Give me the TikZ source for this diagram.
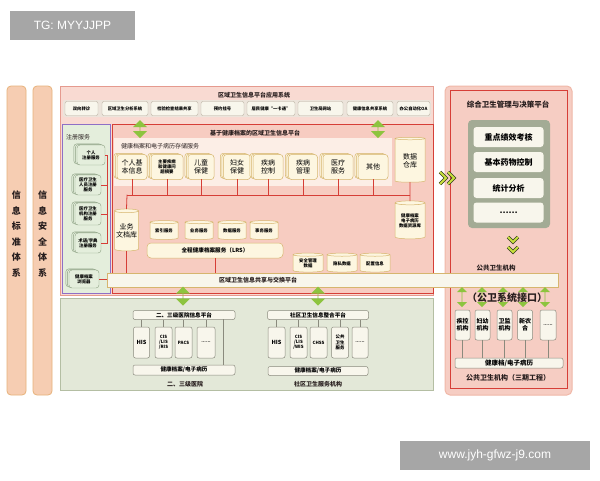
\documentclass[tikz,border=0pt]{standalone}
\usepackage{fontspec}
\setmainfont{Noto Sans CJK SC}
\newfontfamily\wmfont{Liberation Sans}
\usepackage{tikz}
\usetikzlibrary{shapes.geometric,shapes.arrows,shadows}

\begin{document}
\begin{tikzpicture}[x=1pt,y=-1pt,line cap=rect,
	wmbox/.style={fill=custcol_wm, text=white, inner sep=0, font=\wmfont\fontsize{12pt}{12pt}\selectfont},
	sidebar/.style={rounded corners=4pt, fill=custcol_side, draw=custcol_sideln, line width=0.8pt, inner sep=0, align=center, font=\fsSide},
	appbox/.style={rounded corners=2pt, fill=custcol_paper, draw=custcol_grayln, line width=0.4pt, inner sep=0, minimum height=14, font=\fsApp},
	greenarr/.style={double arrow, fill=custcol_green, draw=none, inner sep=0, rotate=90, double arrow head extend=3pt},
	docbox/.style={rounded corners=3pt, fill=custcol_cream, draw=custcol_tan, line width=0.5pt, inner sep=0, align=center, minimum height=25,
		double copy shadow={shadow xshift=-1.6pt, shadow yshift=0.6pt}},
	regbox/.style={rounded corners=3pt, fill=custcol_regfill, draw=custcol_regln, line width=0.4pt, inner sep=0, align=center, minimum width=26, minimum height=20, font=\fsReg,
		double copy shadow={shadow xshift=-1.6pt, shadow yshift=0.6pt}},
	cyl/.style={cylinder, shape border rotate=90, aspect=0.18, fill=custcol_cream, draw=custcol_tan, line width=0.5pt, inner sep=0, align=center},
	sbox/.style={rounded corners=2pt, fill=custcol_paper, draw=custcol_boxln, line width=0.5pt, inner sep=0, align=center},
	decbox/.style={rounded corners=3pt, fill=custcol_paper, draw=none, inner sep=0, minimum width=70, minimum height=20, font=\fsDec},
	redwire/.style={draw=custcol_red, line width=0.8pt},
	graywire/.style={draw=custcol_boxln, line width=0.5pt},
	lbl/.style={inner sep=0, outer sep=0}]
	\def\fsApp{\fontsize{4.3pt}{5pt}\bfseries\selectfont}
	\def\fsReg{\fontsize{4.4pt}{5.2pt}\bfseries\selectfont}
	\def\fsTiny{\fontsize{4.4pt}{5.2pt}\bfseries\selectfont}
	\def\fsDoc{\fontsize{7pt}{8pt}\selectfont}
	\def\fsHead{\fontsize{6pt}{7pt}\bfseries\selectfont}
	\def\fsSmall{\fontsize{5.6pt}{6.5pt}\bfseries\selectfont}
	\def\fsSide{\fontsize{9pt}{15.6pt}\bfseries\selectfont}
	\def\fsDec{\fontsize{8pt}{9pt}\bfseries\selectfont}
	\definecolor{custcol_wm}{RGB}{166, 166, 166}
	\definecolor{custcol_side}{RGB}{246, 205, 178}
	\definecolor{custcol_sideln}{RGB}{231, 178, 122}
	\definecolor{custcol_pink}{RGB}{249, 218, 210}
	\definecolor{custcol_pinkln}{RGB}{229, 154, 143}
	\definecolor{custcol_plat}{RGB}{247, 204, 193}
	\definecolor{custcol_band}{RGB}{252, 238, 230}
	\definecolor{custcol_appband}{RGB}{236, 228, 219}
	\definecolor{custcol_red}{RGB}{214, 62, 55}
	\definecolor{custcol_cream}{RGB}{253, 246, 224}
	\definecolor{custcol_tan}{RGB}{214, 181, 110}
	\definecolor{custcol_paper}{RGB}{248, 246, 236}
	\definecolor{custcol_grayln}{RGB}{184, 176, 160}
	\definecolor{custcol_boxln}{RGB}{138, 138, 125}
	\definecolor{custcol_green}{RGB}{141, 196, 63}
	\definecolor{custcol_regfill}{RGB}{228, 238, 220}
	\definecolor{custcol_regln}{RGB}{140, 160, 130}
	\definecolor{custcol_purple}{RGB}{142, 111, 198}
	\definecolor{custcol_lowbg}{RGB}{227, 232, 216}
	\definecolor{custcol_lowln}{RGB}{180, 190, 163}
	\definecolor{custcol_rpanel}{RGB}{246, 205, 195}
	\definecolor{custcol_rpanelln}{RGB}{240, 184, 168}
	\definecolor{custcol_dec}{RGB}{163, 171, 149}
	\definecolor{custcol_chev}{RGB}{200, 224, 60}
	\definecolor{custcol_chevln}{RGB}{50, 60, 30}
	\definecolor{custcol_txt}{RGB}{40, 30, 30}
	\fill [white] (0,0) rectangle (600,480);
	\useasboundingbox (0,0) rectangle (600,480);
	% watermarks
	\node[wmbox, minimum width=125, minimum height=29] (wmTop) at (72.5,25.5) {TG: MYYJJPP};
	\node[wmbox, minimum width=190, minimum height=29] (wmBot) at (495,455) {www.jyh-gfwz-j9.com};
	% side systems
	\node[sidebar, minimum width=19, minimum height=309] (barStd) at (16.5,240.5) {};
	\node[sidebar, minimum width=19, minimum height=309] (barSec) at (42.5,240.5) {};
	\node[lbl, align=center, font=\fsSide, custcol_txt] (txtStd) at (16.5,234) {信\\息\\标\\准\\体\\系};
	\node[lbl, align=center, font=\fsSide, custcol_txt] (txtSec) at (42.5,234) {信\\息\\安\\全\\体\\系};
	% application layer
	\draw [fill=custcol_pink, draw=custcol_pinkln, line width=0.8pt] (60,86) rectangle (433,295);
	\node[lbl, font=\fsHead, custcol_txt] (tApp) at (254,95) {区域卫生信息平台应用系统};
	\fill [custcol_appband, rounded corners=2pt] (63,100) rectangle (431,117);
	\node[appbox, minimum width=33] (aRef) at (81.5,108.5) {双向转诊};
	\node[appbox, minimum width=46] (aAna) at (125,108.5) {区域卫生分析系统};
	\node[appbox, minimum width=47] (aLab) at (174.5,108.5) {检验检查结果共享};
	\node[appbox, minimum width=43] (aReg) at (222.5,108.5) {预约挂号};
	\node[appbox, minimum width=48] (aCard) at (271,108.5) {居民健康“一卡通”};
	\node[appbox, minimum width=45] (aWeb) at (320.5,108.5) {卫生局网站};
	\node[appbox, minimum width=46] (aShare) at (370,108.5) {健康信息共享系统};
	\node[appbox, minimum width=33] (aOA) at (413.5,108.5) {办公自动化OA};
	% registry column
	\draw [fill=custcol_regfill, draw=custcol_purple, line width=0.8pt] (62,124) rectangle (110,293);
	\node[lbl, font=\fontsize{6pt}{7pt}\selectfont, custcol_txt, anchor=west] (tReg) at (66,137) {注册服务};
	\node[regbox, minimum width=28] (rPers) at (91,155) {个人\\注册服务};
	\node[regbox] (rStaff) at (88,185) {医疗卫生\\人员注册\\服务};
	\node[regbox, minimum height=22] (rOrg) at (88,214) {医疗卫生\\机构注册\\服务};
	\node[regbox] (rTerm) at (88,243) {术语/字典\\注册服务};
	\node[regbox, minimum width=30, minimum height=18] (rBrow) at (84,279) {健康档案\\浏览器};
	% health record platform
	\draw [fill=custcol_plat, draw=custcol_red, line width=0.8pt] (112,124) rectangle (433,293);
	\node[lbl, font=\fsHead, custcol_txt] (tPlat) at (255,133) {基于健康档案的区域卫生信息平台};
	\fill [custcol_band] (114,138) rectangle (392,186);
	\node[lbl, font=\fontsize{6pt}{7pt}\selectfont, custcol_txt, anchor=west] (tStore) at (121,146) {健康档案和电子病历存储服务};
	\node[greenarr, minimum height=18, minimum width=14] (arrAppL) at (140,129) {};
	\node[greenarr, minimum height=18, minimum width=14] (arrAppR) at (378,129) {};
	\node[docbox, minimum width=30, font=\fsDoc] (dPers) at (132,167) {个人基\\本信息};
	\node[docbox, minimum width=32, font=\fsTiny] (dMain) at (167,167) {主要疾病\\和健康问\\题摘要};
	\node[docbox, minimum width=26, font=\fsDoc] (dChild) at (201,167) {儿童\\保健};
	\node[docbox, minimum width=27, font=\fsDoc] (dWomen) at (237,167) {妇女\\保健};
	\node[docbox, minimum width=30, font=\fsDoc] (dCtrl) at (268,167) {疾病\\控制};
	\node[docbox, minimum width=29, font=\fsDoc] (dMgmt) at (303,167) {疾病\\管理};
	\node[docbox, minimum width=30, font=\fsDoc] (dMed) at (338,167) {医疗\\服务};
	\node[docbox, minimum width=30, font=\fsDoc] (dEtc) at (373,167) {其他};
	\node[cyl, minimum width=30, minimum height=45, font=\fsDoc] (cWare) at (410,160.5) {数据\\仓库};
	\node[cyl, minimum width=30, minimum height=38, font=\fsTiny] (cRes) at (410,221) {健康档案\\电子病历\\数据资源库};
	\node[cyl, minimum width=24, minimum height=42, font=\fsDoc] (cDoc) at (126.5,231) {业务\\文档库};
	\node[sbox, rounded corners=4pt, fill=custcol_cream, draw=custcol_tan, minimum width=136, minimum height=15, font=\fsSmall] (lrs) at (215,250.5) {全程健康档案服务（LRS）};
	\node[cyl, minimum width=28, minimum height=19, font=\fsTiny] (cIdx) at (164,231) {索引服务};
	\node[cyl, minimum width=28, minimum height=19, font=\fsTiny] (cBiz) at (199,231) {业务服务};
	\node[cyl, minimum width=28, minimum height=19, font=\fsTiny] (cData) at (232,231) {数据服务};
	\node[cyl, minimum width=28, minimum height=19, font=\fsTiny] (cTx) at (264,231) {事务服务};
	\node[cyl, minimum width=30, minimum height=19, font=\fsTiny] (cSec) at (308,263.5) {安全管理\\数据};
	\node[cyl, minimum width=30, minimum height=19, font=\fsTiny] (cPriv) at (342,263.5) {隐私数据};
	\node[cyl, minimum width=30, minimum height=19, font=\fsTiny] (cConf) at (375,263.5) {配置信息};
	% red wiring
	\coordinate (busL) at (127,195);
	\coordinate (busR) at (410,195);
	\coordinate (regX) at (107,150);
	\draw [redwire] (busL) -- (busR);
	\foreach \n in {dPers,dMain,dChild,dWomen,dCtrl,dMgmt,dMed,dEtc}
		\draw [redwire] (\n.south) -- (\n.south |- busL);
	\draw [redwire] (cWare.south) -- (cRes.north);
	\draw [redwire] (busL) -- (cDoc.north);
	\draw [redwire] (rPers.east) -| (regX |- rTerm.east) -- (rTerm.east);
	\draw [redwire] (rStaff.east) -- (rStaff.east -| regX);
	\draw [redwire] (rOrg.east) -- (rOrg.east -| regX);
	% decision platform
	\draw [fill=custcol_rpanel, draw=custcol_rpanelln, line width=1pt, rounded corners=5pt] (445,86) rectangle (572,395);
	\draw [draw=custcol_red, line width=0.6pt] (450,90) rectangle (567,388);
	\node[lbl, font=\fontsize{7.5pt}{8pt}\bfseries\selectfont, custcol_txt] (tDec) at (508,105) {综合卫生管理与决策平台};
	\node[rounded corners=4pt, fill=custcol_dec, inner sep=0, minimum width=82, minimum height=108] (decArea) at (509,174) {};
	\node[decbox] (kpi) at (508.5,137) {重点绩效考核};
	\node[decbox] (drug) at (508.5,162) {基本药物控制};
	\node[decbox] (stat) at (508.5,188) {统计分析};
	\node[decbox] (more) at (508.5,212.5) {……};
	\foreach \x in {0,8}
		\draw [custcol_chevln, line width=3.4pt, line cap=butt] (440+\x,172) -- (446+\x,178) -- (440+\x,184);
	\foreach \x in {0,8}
		\draw [custcol_chev, line width=1.8pt, line cap=butt] (440+\x,172) -- (446+\x,178) -- (440+\x,184);
	\foreach \y in {0,10}
		\draw [custcol_chevln, line width=3.4pt, line cap=butt] (508,237+\y) -- (513,242+\y) -- (518,237+\y);
	\foreach \y in {0,10}
		\draw [custcol_chev, line width=1.8pt, line cap=butt] (508,237+\y) -- (513,242+\y) -- (518,237+\y);
	\node[lbl, font=\fontsize{6.5pt}{7pt}\bfseries\selectfont, custcol_txt] (tPubOrg) at (496,268.5) {公共卫生机构};
	% exchange platform
	\node[cylinder, aspect=0.5, fill=custcol_paper, draw=custcol_tan, line width=0.5pt, inner sep=0, minimum height=451, minimum width=14] (xbar) at (332.5,280) {};
	\node[lbl, font=\fsHead, custcol_txt] (tXchg) at (258,280) {区域卫生信息共享与交换平台};
	\draw [redwire] (cDoc.south) -- (cDoc.south |- xbar.north);
	\draw [redwire] (lrs.south) -- (lrs.south |- xbar.north);
	\draw [redwire] (rBrow.east) -- (rBrow.east -| xbar.west);
	% lower institutions
	\draw [fill=custcol_lowbg, draw=custcol_lowln, line width=0.8pt] (60,298) rectangle (433,390);
	\node[greenarr, minimum height=19, minimum width=14] (arrLowL) at (183,296) {};
	\node[greenarr, minimum height=19, minimum width=14] (arrLowR) at (318,296) {};
	\node[sbox, minimum width=102, minimum height=9, font=\fsSmall] (hPlat) at (184,315) {二、三级医院信息平台};
	\node[sbox, minimum width=16, minimum height=31, font=\fsSmall] (hHIS) at (141.5,342.5) {HIS};
	\node[sbox, minimum width=17, minimum height=31, font=\fsTiny] (hCIS) at (163.5,342.5) {CIS\\/LIS\\/RIS};
	\node[sbox, minimum width=17, minimum height=31, font=\fsTiny] (hPACS) at (183.5,342.5) {PACS};
	\node[sbox, minimum width=18, minimum height=31, font=\fsTiny] (hDots) at (206,342.5) {......};
	\node[sbox, minimum width=102, minimum height=10, font=\fsSmall] (hEHR) at (184,370) {健康档案/电子病历};
	\node[lbl, font=\fsHead, custcol_txt] (tHosp) at (185,384.5) {二、三级医院};
	\coordinate (hTap) at (223,319.5);
	\foreach \n in {hHIS,hCIS,hPACS,hDots}
		\draw [graywire] (\n.north) -- (\n.north |- hPlat.south);
	\draw [graywire] (hTap) -- (hTap |- hEHR.north);
	\node[sbox, minimum width=101, minimum height=9, font=\fsSmall] (cPlat) at (318,315) {社区卫生信息整合平台};
	\node[sbox, minimum width=17, minimum height=31, font=\fsSmall] (cHIS) at (276.5,342.5) {HIS};
	\node[sbox, minimum width=17, minimum height=31, font=\fsTiny] (cCIS) at (298.5,342.5) {CIS\\/LIS\\/WIS};
	\node[sbox, minimum width=17, minimum height=31, font=\fsTiny] (cCHSS) at (318.5,342.5) {CHSS};
	\node[sbox, minimum width=17, minimum height=31, font=\fsTiny] (cPub) at (340,342.5) {公共\\卫生\\服务};
	\node[sbox, minimum width=16, minimum height=31, font=\fsTiny] (cDots) at (360,342.5) {......};
	\node[sbox, minimum width=100, minimum height=9, font=\fsSmall] (cEHR) at (318,371) {健康档案/电子病历};
	\node[lbl, font=\fsHead, custcol_txt] (tComm) at (318,384.5) {社区卫生服务机构};
	\foreach \n in {cHIS,cCIS,cCHSS,cPub,cDots}
		\draw [graywire] (\n.north) -- (\n.north |- cPlat.south);
	% public health interface
	\node[greenarr, minimum height=20, minimum width=10, double arrow head extend=2pt] (pa1) at (462,297) {};
	\node[greenarr, minimum height=20, minimum width=10, double arrow head extend=2pt] (pa2) at (482,297) {};
	\node[greenarr, minimum height=20, minimum width=10, double arrow head extend=2pt] (pa3) at (503,297) {};
	\node[greenarr, minimum height=20, minimum width=10, double arrow head extend=2pt] (pa4) at (523,297) {};
	\node[greenarr, minimum height=20, minimum width=10, double arrow head extend=2pt] (pa5) at (545,297) {};
	\node[lbl, font=\fontsize{10pt}{11pt}\bfseries\selectfont, custcol_txt] (tIface) at (507,298) {（公卫系统接口）};
	\node[sbox, minimum width=15, minimum height=30, font=\fontsize{6pt}{7pt}\bfseries\selectfont] (pJk) at (462.5,325) {疾控\\机构};
	\node[sbox, minimum width=15, minimum height=30, font=\fontsize{6pt}{7pt}\bfseries\selectfont] (pFy) at (482.5,325) {妇幼\\机构};
	\node[sbox, minimum width=15, minimum height=30, font=\fontsize{6pt}{7pt}\bfseries\selectfont] (pWj) at (504.5,325) {卫监\\机构};
	\node[sbox, minimum width=15, minimum height=30, font=\fontsize{6pt}{7pt}\bfseries\selectfont] (pXnh) at (525,325) {新农\\合};
	\node[sbox, minimum width=16, minimum height=30, font=\fsTiny] (pEtc) at (548,325) {......};
	\node[sbox, minimum width=108, minimum height=10, font=\fontsize{6.5pt}{7pt}\bfseries\selectfont] (pEHR) at (509,363) {健康档/电子病历};
	\foreach \n in {pJk,pFy,pWj,pXnh,pEtc}
		\draw [graywire] (\n.south) -- (\n.south |- pEHR.north);
	\node[lbl, font=\fontsize{7pt}{8pt}\bfseries\selectfont, custcol_txt] (tPhase) at (508,378) {公共卫生机构（三期工程）};
\end{tikzpicture}
\end{document}
